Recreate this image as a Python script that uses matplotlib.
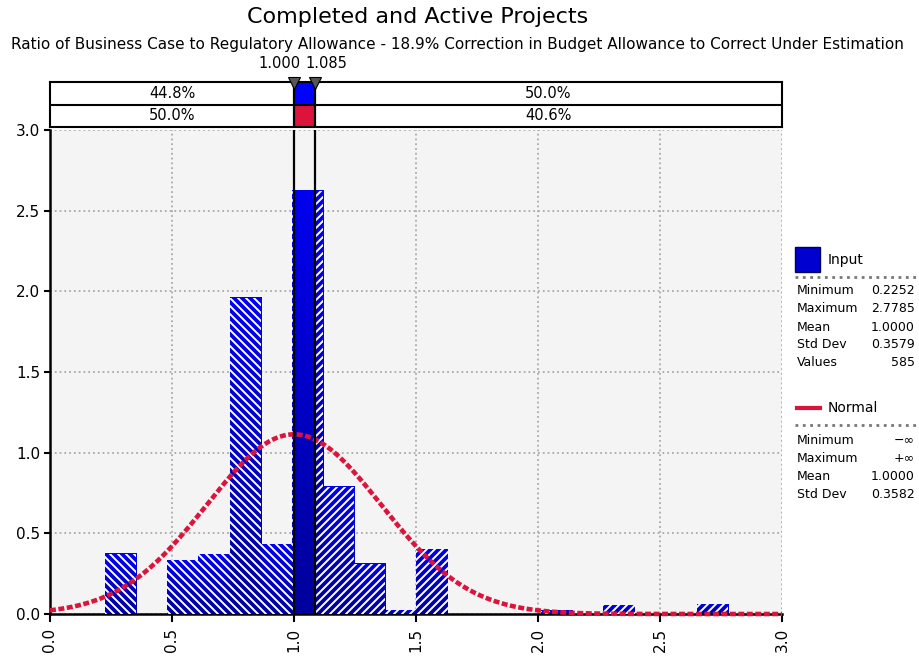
import numpy as np
import matplotlib
matplotlib.use("Agg")
import matplotlib.pyplot as plt
from matplotlib.patches import Rectangle
from matplotlib.lines import Line2D
from matplotlib.collections import LineCollection
from matplotlib.colors import LinearSegmentedColormap

# ---------------- data ----------------
data_min = 0.2252
data_max = 2.7785
n_bins = 20
bin_edges = np.linspace(data_min, data_max, n_bins + 1)
densities = [0.375, 0.0, 0.333, 0.371, 1.96, 0.433, 2.624, 0.79, 0.313, 0.022,
             0.40, 0.0, 0.0, 0.0, 0.02, 0.0, 0.053, 0.0, 0.0, 0.059]
markers = [1.000, 1.085]
marker_labels = ["1.000", "1.085"]
input_pcts = ["44.8%", "50.0%"]
normal_pcts = ["50.0%", "40.6%"]
normal_mean = 1.0
normal_std = 0.3582
input_stats_names = ["Minimum", "Maximum", "Mean", "Std Dev", "Values"]
input_stats_vals = ["0.2252", "2.7785", "1.0000", "0.3579", "585"]
normal_stats_names = ["Minimum", "Maximum", "Mean", "Std Dev"]
normal_stats_vals = ["\u2212\u221e", "+\u221e", "1.0000", "0.3582"]
xticks = [0.0, 0.5, 1.0, 1.5, 2.0, 2.5, 3.0]
yticks = [0.0, 0.5, 1.0, 1.5, 2.0, 2.5, 3.0]
title = "Completed and Active Projects"
subtitle = ("Ratio of Business Case to Regulatory Allowance - 18.9% Correction "
            "in Budget Allowance to Correct Under Estimation")

# ---------------- style ----------------
plt.rcParams['font.family'] = ['DejaVu Sans']
W, H = 920, 656
fx = lambda px: px / W
fy = lambda py: 1 - py / H

fig = plt.figure(figsize=(W / 100, H / 100), dpi=100)
fig.patch.set_facecolor('white')

ax_l, ax_r, ax_t, ax_b = 50, 782, 130, 614
ax = fig.add_axes([fx(ax_l), fy(ax_b), (ax_r - ax_l) / W, (ax_b - ax_t) / H])
ax.set_xlim(0, 3)
ax.set_ylim(0, 3)
ax.set_facecolor('#F4F4F4')
for s in ['top', 'right']:
    ax.spines[s].set_visible(False)
for s in ['left', 'bottom']:
    ax.spines[s].set_linewidth(1.8)
    ax.spines[s].set_color('black')
ax.set_xticks(xticks)
ax.set_yticks(yticks)
ax.set_xticklabels([f"{v:.1f}" for v in xticks], rotation=90, fontsize=11)
ax.set_yticklabels([f"{v:.1f}" for v in yticks], fontsize=11)
ax.tick_params(axis='x', length=6, width=1.5, pad=4)
ax.tick_params(axis='y', length=4, width=1.5, pad=3)
ax.grid(True, color='#AAAAAA', linestyle=':', linewidth=1.3)
ax.set_axisbelow(True)

cmap = LinearSegmentedColormap.from_list('bluegrad', ['#00009C', '#0000EE'])
grad = np.linspace(0, 1, 64).reshape(-1, 1)

# pixel scale of data units (for 45-degree hatching)
sx = (ax_r - ax_l) / 3.0
sy = (ax_b - ax_t) / 3.0
spacing_px = 8.0


def hatch_lines(a, b, h, direction):
    """Diagonal lines (in data coords) covering rectangle [a,b]x[0,h]."""
    segs = []
    if direction == '/':
        cmin = -sx * b
        cmax = sy * h - sx * a
    else:
        cmin = sx * a
        cmax = sy * h + sx * b
    c0 = np.floor(cmin / spacing_px) * spacing_px
    xa, xb = a - 0.05, b + 0.05
    for c in np.arange(c0, cmax + spacing_px, spacing_px):
        if direction == '/':
            segs.append([(xa, (c + sx * xa) / sy), (xb, (c + sx * xb) / sy)])
        else:
            segs.append([(xa, (c - sx * xa) / sy), (xb, (c - sx * xb) / sy)])
    return segs


lo, hi = markers
for i, h in enumerate(densities):
    if h <= 0:
        continue
    x0, x1 = bin_edges[i], bin_edges[i + 1]
    ax.imshow(grad, extent=(x0, x1, 0, h), origin='lower', cmap=cmap,
              aspect='auto', zorder=2, interpolation='bilinear')
    parts = []
    if x0 < lo:
        parts.append((x0, min(x1, lo), '\\'))
    if x1 > hi:
        parts.append((max(x0, hi), x1, '/'))
    for a, b, d in parts:
        clip = Rectangle((a, 0), b - a, h, transform=ax.transData,
                         facecolor='none', edgecolor='none')
        ax.add_patch(clip)
        lc = LineCollection(hatch_lines(a, b, h, d), colors='white',
                            linewidths=1.4, zorder=3)
        ax.add_collection(lc)
        lc.set_clip_path(clip)

# normal curve
xs = np.linspace(0, 3, 400)
ys = np.exp(-0.5 * ((xs - normal_mean) / normal_std) ** 2) / (normal_std * np.sqrt(2 * np.pi))
ax.plot(xs, ys, color='#DC143C', lw=3.3, dashes=[1.3, 0.55], zorder=5,
        dash_capstyle='butt', clip_on=False)

for m in markers:
    ax.axvline(m, color='black', lw=1.6, zorder=6)

ax.set_xlim(0, 3)
ax.set_ylim(0, 3)

# ---------------- top band ----------------
band = fig.add_axes([fx(ax_l), fy(127), (ax_r - ax_l) / W, (127 - 82) / H])
band.set_xlim(0, 3)
band.set_ylim(0, 2)
band.set_xticks([])
band.set_yticks([])
for s in band.spines.values():
    s.set_linewidth(1.5)
band.axhline(1, color='black', lw=1.5)
band.add_patch(Rectangle((lo, 1), hi - lo, 1, facecolor='#0000FF', edgecolor='none'))
band.add_patch(Rectangle((lo, 0), hi - lo, 1, facecolor='#DC143C', edgecolor='none'))
for m in markers:
    band.axvline(m, color='black', lw=1.6)
band.text(lo / 2, 1.5, input_pcts[0], ha='center', va='center', fontsize=10.5)
band.text((hi + 3) / 2, 1.5, input_pcts[1], ha='center', va='center', fontsize=10.5)
band.text(lo / 2, 0.5, normal_pcts[0], ha='center', va='center', fontsize=10.5)
band.text((hi + 3) / 2, 0.5, normal_pcts[1], ha='center', va='center', fontsize=10.5)
for m in markers:
    band.plot([m], [1.95], marker='v', ms=9, color='#555555', mec='black',
              mew=0.8, clip_on=False, zorder=10)
band.text(lo + 0.025, 2.5, marker_labels[0], ha='right', va='bottom', fontsize=10.5)
band.text(hi - 0.04, 2.5, marker_labels[1], ha='left', va='bottom', fontsize=10.5)

# ---------------- titles ----------------
fig.text(fx(418), fy(17), title, ha='center', va='center', fontsize=16)
fig.text(fx(457), fy(45), subtitle, ha='center', va='center', fontsize=11)

# ---------------- legend panel ----------------
fig.add_artist(Rectangle((fx(795), fy(272)), 25 / W, 25 / H, transform=fig.transFigure,
                         facecolor='#0000D0', edgecolor='#000060', lw=1))
fig.text(fx(828), fy(260), "Input", ha='left', va='center', fontsize=10)
fig.add_artist(Line2D([fx(795), fx(918)], [fy(277), fy(277)], transform=fig.transFigure,
                      color='#777777', lw=2, linestyle=':'))
for k, (nm, vl) in enumerate(zip(input_stats_names, input_stats_vals)):
    yy = fy(291 + 18 * k)
    fig.text(fx(797), yy, nm, ha='left', va='center', fontsize=9)
    fig.text(fx(915), yy, vl, ha='right', va='center', fontsize=9)

fig.add_artist(Line2D([fx(797), fx(820)], [fy(408), fy(408)], transform=fig.transFigure,
                      color='#DC143C', lw=3))
fig.text(fx(828), fy(408), "Normal", ha='left', va='center', fontsize=10)
fig.add_artist(Line2D([fx(795), fx(918)], [fy(425), fy(425)], transform=fig.transFigure,
                      color='#777777', lw=2, linestyle=':'))
for k, (nm, vl) in enumerate(zip(normal_stats_names, normal_stats_vals)):
    yy = fy(440 + 18 * k)
    fig.text(fx(797), yy, nm, ha='left', va='center', fontsize=9)
    fig.text(fx(915), yy, vl, ha='right', va='center', fontsize=9)

fig.savefig("out.png", dpi=100, facecolor='white')
